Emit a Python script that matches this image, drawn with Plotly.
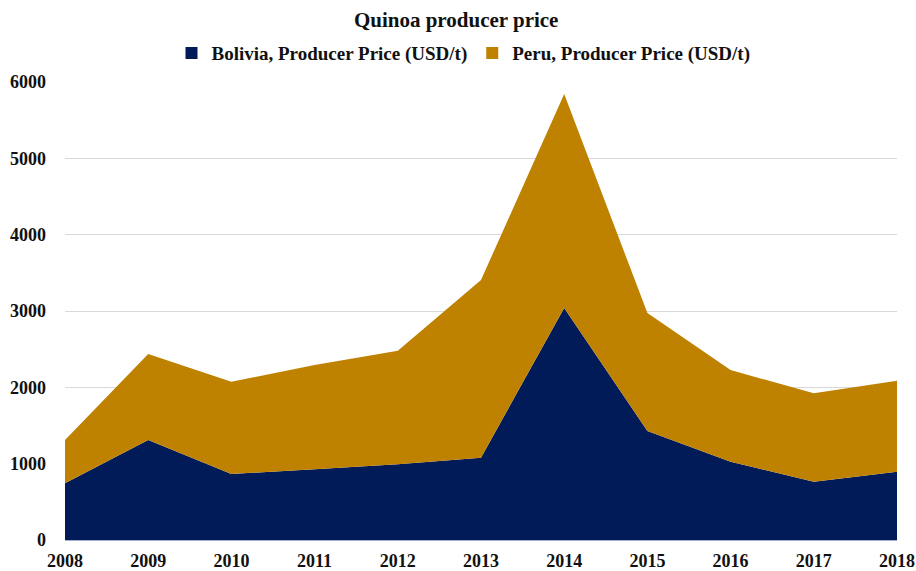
import plotly.graph_objects as go

years = [2008, 2009, 2010, 2011, 2012, 2013, 2014, 2015, 2016, 2017, 2018]
bolivia = [743, 1310, 865, 926, 991, 1078, 3040, 1428, 1026, 764, 895]
peru = [567, 1127, 1209, 1367, 1489, 2328, 2803, 1546, 1201, 1157, 1192]
y_ticks = [0, 1000, 2000, 3000, 4000, 5000, 6000]
names = ["Bolivia, Producer Price (USD/t)", "Peru, Producer Price (USD/t)"]
colors = ["#011B59", "#BE8200"]

FONT = "Liberation Serif"

fig = go.Figure()
for vals, name, col in zip([bolivia, peru], names, colors):
    fig.add_trace(go.Scatter(
        x=years, y=vals, name=name, stackgroup="one", mode="none",
        fillcolor=col, showlegend=False,
    ))
for name, col in zip(names, colors):
    fig.add_trace(go.Scatter(
        x=[None], y=[None], name=f"<b>{name}</b>", mode="markers",
        marker=dict(symbol="square", size=9, color=col),
    ))

fig.update_layout(
    width=916, height=571,
    margin=dict(l=65, r=19, t=82, b=31, autoexpand=False),
    paper_bgcolor="white", plot_bgcolor="white",
    font=dict(family=FONT, color="#111111", size=18),
    title=dict(text="<b>Quinoa producer price</b>", x=0.498, xref="container",
               xanchor="center", y=0.965, yanchor="middle", yref="container",
               font=dict(family=FONT, size=21, color="#111111")),
    legend=dict(orientation="h", x=0.506, xanchor="center", xref="container",
                y=0.907, yanchor="middle", yref="container",
                font=dict(family=FONT, size=19, color="#111111"),
                traceorder="normal", itemwidth=30, itemsizing="constant"),
    showlegend=True,
)
fig.update_xaxes(
    range=[2008, 2018], tickvals=years, ticktext=[f"<b>{y}</b>" for y in years],
    showgrid=False, zeroline=False, showline=True, linecolor="#9fb0d0", linewidth=1,
    ticks="", ticklabelstandoff=4, automargin=False,
    tickfont=dict(family=FONT, size=18, color="#111111"),
)
fig.update_yaxes(
    range=[0, 6000], tickvals=y_ticks, ticktext=[f"<b>{v}</b>" for v in y_ticks],
    showgrid=True, gridcolor="#d9d9d9", gridwidth=1, zeroline=False,
    showline=False, ticks="", ticklabelstandoff=18, automargin=False,
    tickfont=dict(family=FONT, size=18, color="#111111"),
)

fig.write_html(
    "out.html",
    config={"displayModeBar": False},
    post_script="document.body.style.margin='0px';document.body.style.overflow='hidden';",
)
